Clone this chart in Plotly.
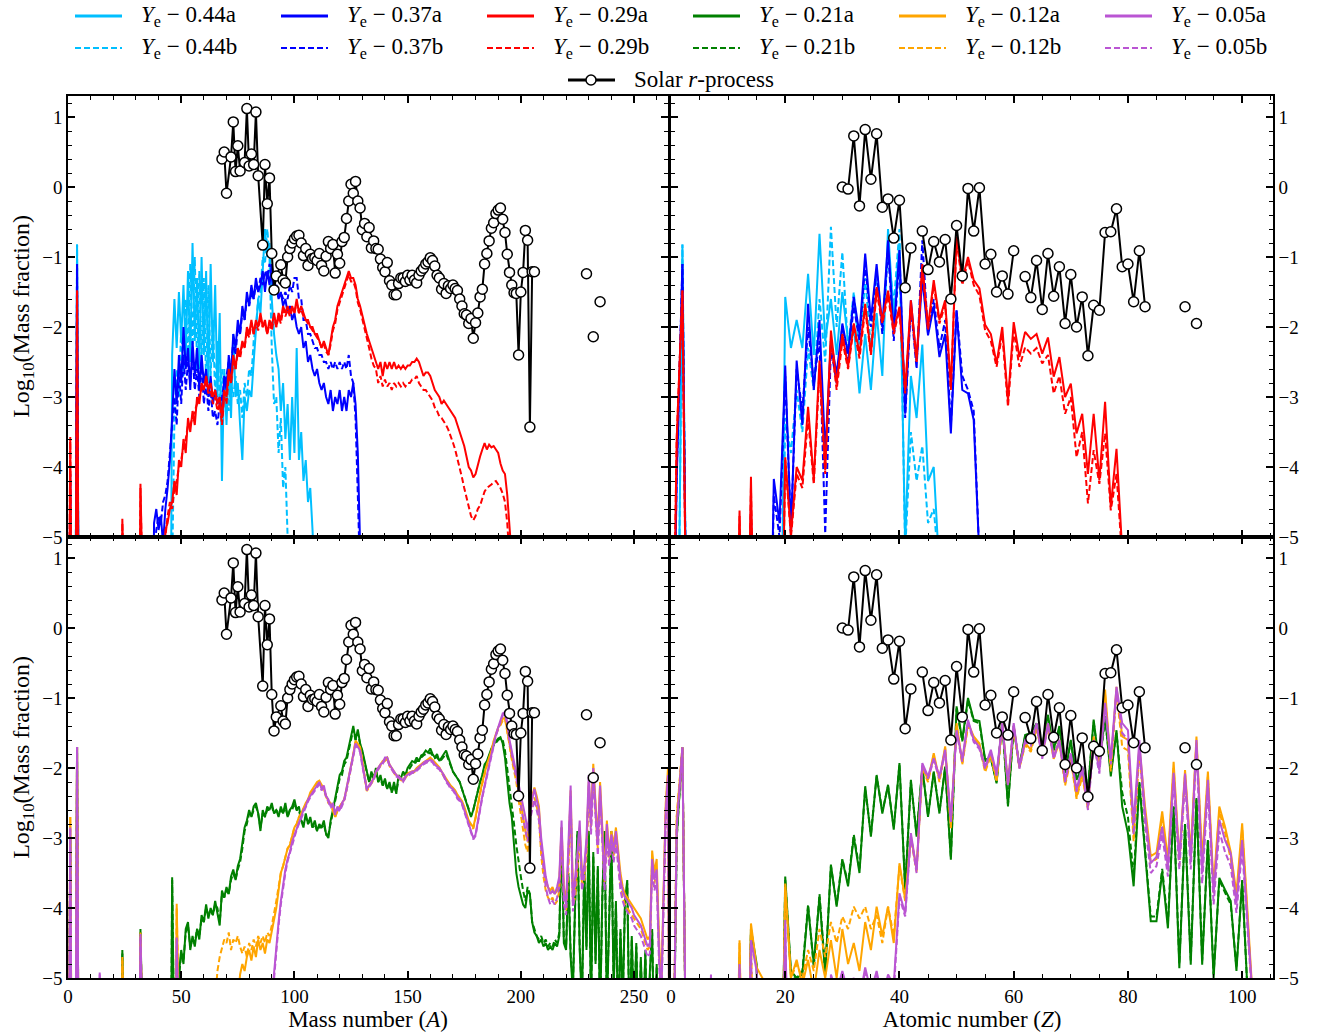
import plotly.graph_objects as go

FLOOR = -9.0   # abundances below the plotted window are drawn off the bottom
N_A = 266      # highest mass number stored
N_Z = 104      # highest atomic number stored

# ---------------- mass fractions vs mass number A (log10) ----------------
# each series: sparse light-element values, first A of the dense run, dense values
A_044A_LIGHT = {4: -0.82}
A_044A_FROM = 46
A_044A = [-2.4, -1.6, -2.3, -1.5, -2.2, -1.4, -2.4, -1.2, -2.5, -0.8,
          -2.2, -1.3, -2.6, -1.0, -2.4, -1.2, -2.8, -1.1, -2.5, -1.4,
          -3.0, -1.8, -4.2, -2.6, -3.4, -2.5, -3.3, -2.1, -3.0, -2.8,
          -3.4, -3.9, -3.0, -3.2, -2.9, -3.0, -2.5, -2.1, -1.6, -1.8,
          -1.2, -0.6, -1.0, -0.8, -1.6, -2.1, -2.4, -2.6, -3.2, -2.8,
          -3.6, -3.1, -3.9, -3.0, -3.8, -2.3, -3.9, -3.5, -4.2, -3.9,
          -4.5, -4.3, -4.9, -5.6]

A_044B_LIGHT = {4: -0.82}
A_044B_FROM = 46
A_044B = [-5.5, -3.3, -2.6, -3.0, -2.0, -2.7, -1.6, -2.5, -1.1, -2.4,
          -1.0, -2.6, -1.2, -2.5, -1.3, -2.8, -1.4, -2.7, -1.9, -3.0,
          -2.2, -3.1, -2.6, -3.0, -2.7, -3.2, -2.8, -3.0, -2.7, -3.1,
          -2.9, -3.3, -2.8, -3.0, -2.6, -2.7, -2.2, -2.0, -1.6, -1.5,
          -1.0, -1.1, -0.6, -1.0, -2.3, -3.1, -3.0, -3.8, -3.3, -4.3,
          -4.0, -4.9, -6.0]

A_037A_LIGHT = {1: -4.2, 4: -1.1}
A_037A_FROM = 38
A_037A = [-4.8, -4.6, -4.9, -4.7, -5.1, -4.6, -4.3, -3.9, -3.3, -2.6,
          -3.1, -2.4, -2.8, -2.0, -2.6, -2.3, -2.9, -2.2, -2.7, -2.3,
          -2.9, -2.4, -2.8, -2.6, -3.0, -2.7, -3.1, -2.9, -3.1, -3.0,
          -3.3, -2.7, -2.9, -2.4, -2.7, -2.1, -2.3, -1.9, -2.1, -1.7,
          -1.9, -1.5, -1.7, -1.4, -1.6, -1.3, -1.5, -1.4, -1.2, -1.5,
          -1.2, -1.4, -1.1, -1.5, -1.4, -1.6, -1.5, -1.7, -1.6, -1.8,
          -1.7, -1.9, -1.8, -2.0, -2.1, -2.0, -2.3, -2.2, -2.5, -2.4,
          -2.6, -2.7, -2.6, -2.8, -2.9, -2.8, -3.0, -3.1, -2.9, -3.2,
          -3.0, -3.1, -2.9, -3.2, -3.0, -3.2, -2.9, -3.0, -2.8, -3.1,
          -3.8, -5.0]

A_037B_LIGHT = {1: -4.1, 4: -1.1}
A_037B_FROM = 38
A_037B = [-5.2, -4.9, -4.7, -4.8, -4.5, -4.4, -4.2, -3.8, -3.5, -3.0,
          -3.4, -2.6, -3.1, -2.4, -2.9, -2.5, -2.8, -2.4, -2.9, -2.6,
          -3.0, -2.5, -3.1, -2.8, -3.2, -2.9, -3.3, -3.2, -3.4, -3.1,
          -3.0, -2.8, -2.7, -2.5, -2.6, -2.2, -2.4, -2.0, -2.1, -1.8,
          -1.9, -1.6, -1.7, -1.5, -1.6, -1.4, -1.5, -1.3, -1.4, -1.2,
          -1.3, -1.1, -1.3, -1.5, -1.4, -1.6, -1.5, -1.6, -1.5, -1.6,
          -1.4, -1.5, -1.3, -1.3, -1.6, -1.6, -1.9, -1.9, -2.1, -2.1,
          -2.2, -2.3, -2.3, -2.4, -2.4, -2.5, -2.5, -2.6, -2.5, -2.6,
          -2.5, -2.6, -2.5, -2.6, -2.5, -2.6, -2.4, -2.7, -2.8, -3.3,
          -4.4, -6.0]

A_029A_LIGHT = {1: -3.6, 4: -1.48, 24: -4.74, 32: -4.24}
A_029A_FROM = 43
A_029A = [-4.9, -4.8, -4.6, -4.5, -4.2, -4.4, -3.9, -4.0, -3.6, -3.8,
          -3.3, -3.5, -3.2, -3.4, -3.0, -3.1, -2.8, -2.9, -2.7, -2.9,
          -2.8, -3.0, -2.9, -3.1, -3.0, -3.3, -2.9, -3.0, -2.6, -2.8,
          -2.4, -2.6, -2.3, -2.4, -2.2, -2.3, -2.0, -2.1, -1.9, -2.1,
          -1.9, -2.0, -1.8, -2.0, -1.9, -2.1, -1.9, -2.0, -1.8, -2.0,
          -1.8, -1.9, -1.7, -1.8, -1.7, -1.8, -1.7, -1.8, -1.6, -1.8,
          -1.7, -1.8, -1.9, -1.9, -2.0, -2.0, -2.1, -2.1, -2.2, -2.3,
          -2.2, -2.3, -2.4, -2.2, -2.0, -1.9, -1.7, -1.6, -1.5, -1.4,
          -1.3, -1.2, -1.3, -1.3, -1.4, -1.6, -1.7, -1.85, -2.0, -2.1,
          -2.2, -2.3, -2.4, -2.5, -2.6, -2.5, -2.7, -2.5, -2.6, -2.5,
          -2.6, -2.5, -2.6, -2.55, -2.6, -2.55, -2.6, -2.55, -2.55, -2.5,
          -2.5, -2.45, -2.5, -2.6, -2.7, -2.65, -2.65, -2.7, -2.8, -2.9,
          -2.95, -3.0, -3.1, -3.05, -3.1, -3.15, -3.2, -3.25, -3.3, -3.4,
          -3.5, -3.6, -3.7, -3.85, -4.0, -4.05, -4.15, -4.1, -3.95, -3.85,
          -3.75, -3.66, -3.75, -3.68, -3.72, -3.7, -3.75, -3.8, -3.95, -4.05,
          -4.1, -4.4, -4.85, -5.3]

A_029B_LIGHT = {1: -3.57, 4: -1.48, 24: -4.8, 32: -4.3}
A_029B_FROM = 43
A_029B = [-5.0, -4.7, -4.5, -4.6, -4.3, -4.2, -4.0, -3.9, -3.7, -3.6,
          -3.4, -3.4, -3.3, -3.2, -3.1, -3.0, -2.9, -2.8, -2.8, -2.95,
          -2.9, -3.1, -3.0, -3.2, -3.1, -3.4, -3.0, -3.1, -2.7, -2.8,
          -2.5, -2.6, -2.35, -2.45, -2.25, -2.3, -2.05, -2.15, -1.95, -2.1,
          -1.95, -2.05, -1.85, -2.0, -1.95, -2.1, -1.95, -2.05, -1.85, -2.0,
          -1.85, -1.95, -1.75, -1.85, -1.75, -1.85, -1.75, -1.8, -1.65, -1.8,
          -1.75, -1.85, -1.9, -1.95, -2.0, -2.05, -2.1, -2.15, -2.2, -2.3,
          -2.25, -2.35, -2.4, -2.25, -2.05, -1.95, -1.75, -1.65, -1.55, -1.45,
          -1.35, -1.25, -1.35, -1.35, -1.45, -1.65, -1.75, -1.9, -2.05, -2.15,
          -2.3, -2.45, -2.55, -2.6, -2.8, -2.7, -2.85, -2.75, -2.85, -2.8,
          -2.9, -2.8, -2.85, -2.8, -2.85, -2.8, -2.85, -2.8, -2.8, -2.75,
          -2.75, -2.7, -2.8, -2.85, -2.9, -2.9, -2.95, -3.0, -3.05, -3.15,
          -3.2, -3.28, -3.3, -3.35, -3.4, -3.47, -3.55, -3.65, -3.75, -3.9,
          -4.0, -4.15, -4.3, -4.45, -4.6, -4.7, -4.76, -4.7, -4.6, -4.55,
          -4.45, -4.35, -4.3, -4.28, -4.25, -4.22, -4.2, -4.25, -4.3, -4.38,
          -4.5, -4.8, -5.3]

A_021A_LIGHT = {1: -3.0, 4: -1.7, 24: -4.6, 32: -4.3, 46: -3.56}
A_021A_FROM = 49
A_021A = [-4.95, -4.6, -4.8, -4.3, -4.2, -4.6, -4.4, -4.55, -4.3, -4.45,
          -4.1, -4.2, -3.95, -4.15, -4.0, -4.1, -3.9, -4.05, -4.25, -3.75,
          -3.85, -3.7, -3.8, -3.55, -3.45, -3.6, -3.4, -3.3, -3.1, -2.85,
          -2.75, -2.6, -2.7, -2.55, -2.5, -2.65, -2.9, -2.6, -2.7, -2.55,
          -2.6, -2.5, -2.65, -2.6, -2.7, -2.55, -2.65, -2.5, -2.7, -2.6,
          -2.55, -2.45, -2.6, -2.55, -2.75, -2.85, -2.65, -2.8, -2.7, -2.85,
          -2.75, -2.9, -2.8, -2.85, -2.75, -2.95, -3.0, -2.75, -2.6, -2.45,
          -2.3, -2.1, -2.05, -1.9, -1.85, -1.7, -1.55, -1.4, -1.6, -1.45,
          -1.65, -1.75, -1.9, -2.05, -2.2, -2.05, -2.15, -2.0, -2.2, -2.1,
          -2.25, -2.15, -2.3, -2.2, -2.35, -2.2, -2.37, -2.1, -2.15, -2.05,
          -2.1, -2.0, -1.95, -1.9, -1.92, -1.85, -1.9, -1.82, -1.8, -1.75,
          -1.78, -1.72, -1.8, -1.85, -1.8, -1.9, -1.85, -1.8, -1.75, -1.85,
          -1.95, -2.05, -2.1, -2.15, -2.2, -2.3, -2.4, -2.5, -2.6, -2.7,
          -2.6, -2.45, -2.3, -2.2, -2.1, -1.95, -1.9, -1.8, -1.72, -1.66,
          -1.62, -1.58, -1.56, -1.65, -1.85, -2.2, -2.5, -2.7, -3.1, -3.5,
          -3.7, -3.85, -3.95, -4.0, -3.75, -3.8, -4.2, -4.35, -4.4, -4.5,
          -4.45, -4.55, -4.5, -4.6, -4.55, -4.6, -4.5, -4.55, -4.4, -2.85,
          -4.5, -4.6, -3.5, -4.7, -5.2, -3.9, -2.9, -4.6, -5.4, -3.4,
          -4.6, -2.9, -5.5, -3.2, -4.8, -3.4, -5.6, -3.8, -2.9, -5.5,
          -4.1, -2.9, -5.2, -3.9, -5.8, -4.3, -5.4, -3.9, -3.6, -5.9,
          -4.4, -5.6, -4.5, -6.0, -4.7, -5.8, -4.6, -6.2, -4.9, -4.3,
          -6.2, -4.8, -6.5, -4.9, -7.0, -7.0, -7.0]

A_021B_LIGHT = {1: -3.0, 4: -1.7, 24: -4.65, 32: -4.35, 46: -3.6}
A_021B_FROM = 49
A_021B = [-5.0, -4.65, -4.75, -4.35, -4.25, -4.55, -4.45, -4.5, -4.3, -4.4,
          -4.15, -4.2, -4.0, -4.1, -4.05, -4.1, -3.95, -4.0, -4.2, -3.8,
          -3.85, -3.75, -3.8, -3.6, -3.5, -3.6, -3.45, -3.35, -3.15, -2.9,
          -2.8, -2.65, -2.7, -2.6, -2.55, -2.65, -2.85, -2.65, -2.7, -2.6,
          -2.6, -2.55, -2.65, -2.6, -2.65, -2.6, -2.65, -2.55, -2.7, -2.6,
          -2.6, -2.5, -2.6, -2.6, -2.75, -2.8, -2.7, -2.8, -2.75, -2.85,
          -2.8, -2.9, -2.85, -2.85, -2.8, -2.95, -2.95, -2.8, -2.65, -2.5,
          -2.35, -2.15, -2.1, -1.95, -1.9, -1.75, -1.6, -1.45, -1.6, -1.5,
          -1.65, -1.8, -1.95, -2.05, -2.2, -2.1, -2.15, -2.05, -2.2, -2.15,
          -2.25, -2.2, -2.3, -2.25, -2.35, -2.25, -2.35, -2.15, -2.15, -2.1,
          -2.1, -2.05, -2.0, -1.95, -1.95, -1.9, -1.9, -1.85, -1.82, -1.8,
          -1.8, -1.78, -1.82, -1.86, -1.84, -1.9, -1.88, -1.84, -1.8, -1.88,
          -1.97, -2.05, -2.1, -2.15, -2.2, -2.3, -2.4, -2.5, -2.6, -2.68,
          -2.6, -2.45, -2.3, -2.2, -2.1, -1.98, -1.92, -1.82, -1.74, -1.68,
          -1.64, -1.6, -1.58, -1.6, -1.75, -2.0, -2.3, -2.5, -2.8, -3.1,
          -3.35, -3.55, -3.75, -3.9, -3.7, -3.8, -4.2, -4.3, -4.4, -4.45,
          -4.4, -4.5, -4.45, -4.55, -4.5, -4.55, -4.45, -4.5, -4.35, -2.9,
          -4.45, -4.55, -3.55, -4.65, -5.1, -3.95, -2.95, -4.55, -5.3, -3.45,
          -4.55, -2.95, -5.4, -3.25, -4.75, -3.45, -5.5, -3.85, -2.95, -5.4,
          -4.15, -2.95, -5.1, -3.95, -5.7, -4.35, -5.3, -3.95, -3.65, -5.8,
          -4.45, -5.5, -4.55, -5.9, -4.75, -5.7, -4.65, -6.1, -4.95, -4.35,
          -6.1, -4.85, -6.4, -4.95, -7.0, -7.0, -7.0]

A_012A_LIGHT = {1: -2.7, 4: -1.7, 24: -4.7, 32: -4.35, 48: -3.94}
A_012A_FROM = 75
A_012A = [-5.3, -4.95, -4.8, -4.9, -4.7, -4.6, -4.75, -4.55, -4.7, -4.45,
          -4.6, -4.5, -4.65, -4.45, -4.5, -4.35, -4.2, -4.0, -3.75, -3.5,
          -3.4, -3.25, -3.15, -3.1, -2.95, -2.85, -2.8, -2.7, -2.65, -2.56,
          -2.5, -2.45, -2.35, -2.3, -2.25, -2.2, -2.18, -2.25, -2.3, -2.4,
          -2.47, -2.5, -2.6, -2.7, -2.6, -2.55, -2.5, -2.45, -2.3, -2.15,
          -2.0, -1.8, -1.61, -1.65, -1.7, -1.9, -2.09, -2.32, -2.25, -2.2,
          -2.15, -2.05, -2.0, -1.95, -1.9, -1.88, -1.85, -1.95, -2.0, -2.05,
          -2.1, -2.12, -2.15, -2.18, -2.12, -2.08, -2.06, -2.05, -2.04, -2.0,
          -1.97, -1.95, -1.92, -1.9, -1.88, -1.85, -1.88, -1.92, -1.96, -1.99,
          -2.05, -2.1, -2.15, -2.2, -2.25, -2.28, -2.32, -2.38, -2.42, -2.47,
          -2.55, -2.65, -2.75, -2.8, -2.85, -2.7, -2.5, -2.35, -2.2, -2.05,
          -1.95, -1.85, -1.75, -1.61, -1.5, -1.42, -1.37, -1.3, -1.28, -1.45,
          -1.65, -1.85, -2.0, -2.09, -2.3, -2.45, -2.7, -2.9, -3.04, -2.56,
          -2.4, -2.28, -2.4, -2.55, -3.1, -3.4, -3.6, -3.7, -3.75, -3.7,
          -3.8, -3.75, -3.6, -2.85, -3.7, -3.9, -3.3, -2.32, -3.8, -3.7,
          -3.3, -2.85, -3.5, -3.5, -3.1, -2.2, -2.7, -1.94, -2.5, -3.0,
          -2.2, -2.9, -3.5, -2.75, -3.2, -2.9, -3.1, -2.85, -3.2, -3.5,
          -3.7, -3.8, -3.85, -3.9, -3.95, -4.0, -4.05, -4.1, -4.15, -4.25,
          -4.35, -4.45, -4.4, -3.18, -3.5, -3.3, -4.4, -5.2, -3.8, -2.5, -2.0]

A_012B_LIGHT = {1: -2.7, 4: -1.7, 24: -4.75, 32: -4.4, 48: -4.0}
A_012B_FROM = 65
A_012B = [-5.3, -4.9, -4.7, -4.56, -4.45, -4.5, -4.35, -4.6, -4.45, -4.5,
          -4.4, -4.55, -4.65, -4.55, -4.7, -4.5, -4.6, -4.45, -4.55, -4.4,
          -4.5, -4.4, -4.5, -4.35, -4.4, -4.25, -4.1, -3.9, -3.7, -3.5,
          -3.4, -3.25, -3.15, -3.1, -2.95, -2.85, -2.8, -2.7, -2.65, -2.58,
          -2.52, -2.45, -2.38, -2.32, -2.27, -2.22, -2.2, -2.25, -2.32, -2.4,
          -2.5, -2.52, -2.62, -2.7, -2.62, -2.57, -2.5, -2.45, -2.32, -2.17,
          -2.02, -1.82, -1.63, -1.67, -1.72, -1.92, -2.1, -2.33, -2.27, -2.22,
          -2.17, -2.07, -2.02, -1.97, -1.92, -1.9, -1.87, -1.97, -2.02, -2.07,
          -2.12, -2.14, -2.17, -2.2, -2.14, -2.1, -2.08, -2.07, -2.06, -2.02,
          -1.99, -1.97, -1.94, -1.92, -1.9, -1.87, -1.9, -1.94, -1.98, -2.01,
          -2.07, -2.12, -2.17, -2.22, -2.27, -2.3, -2.34, -2.4, -2.44, -2.5,
          -2.58, -2.68, -2.78, -2.83, -2.87, -2.72, -2.52, -2.37, -2.22, -2.07,
          -1.97, -1.87, -1.77, -1.63, -1.52, -1.44, -1.39, -1.32, -1.3, -1.47,
          -1.67, -1.88, -2.05, -2.2, -2.45, -2.65, -2.9, -3.1, -3.2, -2.7,
          -2.55, -2.42, -2.55, -2.7, -3.25, -3.55, -3.75, -3.85, -3.9, -3.85,
          -3.95, -3.9, -3.75, -3.0, -3.85, -4.05, -3.45, -2.45, -3.95, -3.85,
          -3.45, -3.0, -3.65, -3.65, -3.25, -2.35, -2.85, -2.05, -2.65, -3.15,
          -2.35, -3.05, -3.65, -2.9, -3.35, -3.05, -3.25, -3.0, -3.35, -3.65,
          -3.85, -3.95, -4.0, -4.05, -4.1, -4.15, -4.2, -4.25, -4.3, -4.4,
          -4.5, -4.6, -4.55, -3.3, -3.65, -3.45, -4.55, -5.3, -3.95, -2.6, -2.1]

A_005A_LIGHT = {1: -2.85, 4: -1.7, 14: -4.92, 32: -4.37, 48: -4.42}
A_005A_FROM = 90
A_005A = [-5.3, -4.9, -4.5, -4.2, -3.9, -3.65, -3.45, -3.3, -3.2, -3.05,
          -2.95, -2.85, -2.78, -2.7, -2.6, -2.55, -2.45, -2.4, -2.35, -2.3,
          -2.25, -2.2, -2.3, -2.25, -2.4, -2.45, -2.55, -2.5, -2.65, -2.55,
          -2.6, -2.5, -2.45, -2.3, -2.15, -2.0, -1.8, -1.65, -1.7, -1.75,
          -1.95, -2.1, -2.3, -2.25, -2.2, -2.15, -2.05, -2.0, -1.95, -1.92,
          -1.85, -1.85, -1.95, -2.0, -2.05, -2.1, -2.12, -2.15, -2.18, -2.12,
          -2.1, -2.08, -2.05, -2.05, -2.02, -1.98, -1.95, -1.93, -1.9, -1.9,
          -1.88, -1.9, -1.95, -1.98, -2.0, -2.05, -2.1, -2.18, -2.22, -2.28,
          -2.3, -2.35, -2.42, -2.45, -2.5, -2.6, -2.7, -2.8, -2.9, -3.0,
          -2.95, -2.75, -2.6, -2.4, -2.25, -2.1, -1.95, -1.8, -1.65, -1.52,
          -1.42, -1.32, -1.22, -1.2, -1.35, -1.6, -1.75, -1.9, -2.05, -2.2,
          -2.4, -2.55, -2.7, -2.9, -2.6, -2.45, -2.3, -2.45, -2.6, -3.0,
          -3.3, -3.55, -3.7, -3.8, -3.75, -3.8, -3.7, -3.55, -2.75, -3.8,
          -3.95, -3.2, -2.25, -3.9, -3.6, -3.2, -2.75, -3.6, -3.4, -3.0,
          -2.1, -2.8, -2.0, -2.6, -3.1, -2.25, -3.0, -3.6, -2.8, -3.25,
          -2.95, -3.2, -2.9, -3.3, -3.6, -3.75, -3.85, -3.9, -3.95, -4.0,
          -4.1, -4.15, -4.2, -4.25, -4.35, -4.45, -4.55, -4.5, -3.3, -3.6,
          -3.45, -4.6, -5.3, -3.9, -2.6, -2.1]

A_005B_LIGHT = {1: -2.85, 4: -1.7, 14: -4.95, 32: -4.4, 48: -4.45}
A_005B_FROM = 90
A_005B = [-5.4, -5.0, -4.6, -4.25, -3.95, -3.7, -3.5, -3.33, -3.22, -3.08,
          -2.97, -2.88, -2.8, -2.72, -2.63, -2.57, -2.48, -2.42, -2.37, -2.32,
          -2.27, -2.23, -2.32, -2.28, -2.42, -2.48, -2.57, -2.53, -2.67, -2.58,
          -2.62, -2.53, -2.47, -2.33, -2.17, -2.02, -1.83, -1.67, -1.72, -1.77,
          -1.97, -2.12, -2.32, -2.27, -2.22, -2.17, -2.07, -2.02, -1.97, -1.94,
          -1.88, -1.87, -1.97, -2.02, -2.07, -2.12, -2.14, -2.17, -2.2, -2.14,
          -2.12, -2.1, -2.07, -2.07, -2.04, -2.0, -1.97, -1.95, -1.93, -1.92,
          -1.9, -1.92, -1.97, -2.0, -2.02, -2.07, -2.12, -2.2, -2.24, -2.3,
          -2.32, -2.37, -2.44, -2.47, -2.52, -2.62, -2.72, -2.82, -2.92, -3.02,
          -2.97, -2.77, -2.62, -2.42, -2.27, -2.12, -1.97, -1.82, -1.67, -1.54,
          -1.44, -1.34, -1.25, -1.22, -1.38, -1.63, -1.8, -1.97, -2.15, -2.32,
          -2.55, -2.7, -2.85, -3.05, -2.75, -2.6, -2.45, -2.6, -2.75, -3.15,
          -3.45, -3.7, -3.85, -3.95, -3.9, -3.95, -3.85, -3.7, -2.9, -3.95,
          -4.1, -3.35, -2.4, -4.05, -3.75, -3.35, -2.9, -3.75, -3.55, -3.15,
          -2.25, -2.95, -2.15, -2.75, -3.25, -2.4, -3.15, -3.75, -2.95, -3.4,
          -3.1, -3.35, -3.05, -3.45, -3.75, -3.9, -4.0, -4.05, -4.1, -4.15,
          -4.25, -4.3, -4.35, -4.4, -4.5, -4.6, -4.7, -4.65, -3.45, -3.75,
          -3.6, -4.75, -5.4, -4.05, -2.75, -2.2]

# ---------------- mass fractions vs atomic number Z (log10) ----------------
Z_044A_LIGHT = {2: -0.82}
Z_044A_FROM = 20
Z_044A = [-1.57, -2.3, -1.9, -2.3, -1.24, -2.4, -0.67, -2.2, -1.6, -2.4,
          -1.5, -2.2, -2.0, -2.95, -2.1, -2.9, -1.8, -2.7, -0.6, -1.9,
          -0.8, -5.1, -2.7, -3.3, -2.25, -4.2, -4.0, -5.5]

Z_044B_LIGHT = {2: -0.82}
Z_044B_FROM = 20
Z_044B = [-3.3, -3.8, -2.9, -3.5, -2.3, -2.9, -1.6, -2.5, -0.57, -2.0,
          -0.93, -2.3, -1.5, -2.4, -1.3, -2.3, -1.2, -2.0, -0.9, -1.7,
          -0.6, -5.2, -3.5, -4.2, -3.7, -4.8, -4.6, -5.5]

Z_037A_LIGHT = {1: -4.2, 2: -1.1, 14: -5.2}
Z_037A_FROM = 18
Z_037A = [-4.17, -4.8, -2.55, -4.95, -2.48, -3.4, -1.67, -2.9, -1.9, -3.8,
          -2.2, -2.67, -1.95, -2.38, -1.57, -2.1, -0.95, -1.9, -1.1, -2.0,
          -0.76, -2.1, -0.9, -3.24, -1.62, -2.5, -1.3, -2.12, -1.7, -2.43,
          -2.1, -3.52, -1.76, -2.9, -2.95, -3.33, -5.3]

Z_037B_LIGHT = {1: -4.1, 2: -1.1, 14: -4.6}
Z_037B_FROM = 18
Z_037B = [-4.4, -5.0, -2.7, -4.9, -2.6, -3.2, -2.0, -2.8, -2.2, -4.95,
          -2.3, -2.8, -2.0, -2.5, -1.7, -2.2, -1.1, -2.0, -1.2, -2.1,
          -0.9, -2.2, -1.0, -3.3, -1.7, -2.6, -0.76, -2.1, -1.6, -2.3,
          -1.9, -3.4, -1.76, -2.7, -2.9, -3.2, -5.3]

Z_029A_LIGHT = {1: -3.6, 2: -1.48, 12: -4.62, 14: -4.14}
Z_029A_FROM = 20
Z_029A = [-3.86, -4.95, -4.0, -4.19, -3.14, -4.19, -2.48, -4.05, -2.05, -2.81,
          -2.1, -2.57, -1.95, -2.38, -1.67, -2.38, -1.43, -1.9, -1.48, -2.05,
          -1.71, -2.9, -1.62, -2.48, -1.1, -2.0, -1.33, -1.9, -1.62, -2.86,
          -0.71, -1.33, -1.0, -1.33, -1.45, -1.97, -2.1, -2.52, -2.0, -3.05,
          -1.93, -2.43, -2.07, -2.17, -2.1, -2.38, -2.15, -2.71, -2.43, -3.0,
          -2.81, -3.52, -3.24, -4.1, -3.24, -4.19, -3.07, -4.57, -3.74, -5.2]

Z_029B_LIGHT = {1: -3.6, 2: -1.48, 12: -4.7, 14: -4.3}
Z_029B_FROM = 20
Z_029B = [-3.9, -5.0, -4.1, -4.3, -3.3, -4.25, -2.6, -4.1, -2.2, -2.9,
          -2.2, -2.6, -2.0, -2.45, -1.75, -2.4, -1.5, -1.95, -1.55, -2.1,
          -1.75, -2.95, -1.7, -2.5, -1.15, -2.05, -1.4, -1.95, -1.68, -2.9,
          -0.75, -1.4, -1.05, -1.4, -1.55, -2.05, -2.2, -2.57, -2.1, -3.14,
          -2.05, -2.57, -2.29, -2.38, -2.3, -2.52, -2.4, -2.95, -2.7, -3.24,
          -3.0, -3.86, -3.5, -4.52, -3.76, -4.24, -3.52, -4.62, -4.1, -5.3]

Z_021A_LIGHT = {1: -3.0, 2: -1.7, 12: -4.7, 14: -4.3, 15: -4.8}
Z_021A_FROM = 20
Z_021A = [-3.55, -4.9, -5.0, -4.95, -3.98, -4.8, -3.84, -4.95, -3.38, -3.98,
          -3.31, -3.69, -2.98, -3.5, -2.26, -2.98, -2.1, -2.65, -2.24, -2.88,
          -1.93, -3.74, -2.17, -2.98, -1.98, -2.7, -2.05, -2.65, -1.98, -3.31,
          -1.12, -1.6, -1.0, -1.31, -1.33, -1.88, -1.85, -2.22, -1.31, -2.55,
          -1.4, -1.98, -1.53, -1.5, -1.36, -1.69, -1.24, -1.74, -1.4, -2.07,
          -1.6, -2.17, -1.98, -2.31, -1.31, -1.98, -1.26, -2.12, -1.46, -2.55,
          -2.93, -3.69, -2.22, -3.26, -4.19, -4.19, -3.48, -4.29, -2.55, -4.86,
          -2.81, -4.81, -2.43, -4.81, -3.03, -5.0, -3.57, -3.74, -3.9, -4.9,
          -3.6, -5.3]

Z_021B_LIGHT = {1: -3.0, 2: -1.7, 12: -4.75, 14: -4.35, 15: -4.85}
Z_021B_FROM = 20
Z_021B = [-3.6, -4.95, -5.0, -4.9, -3.95, -4.85, -3.8, -4.9, -3.4, -3.95,
          -3.3, -3.65, -2.95, -3.45, -2.3, -2.95, -2.12, -2.62, -2.26, -2.85,
          -1.95, -3.7, -2.2, -2.95, -2.0, -2.68, -2.07, -2.62, -2.0, -3.28,
          -1.15, -1.62, -1.03, -1.33, -1.36, -1.9, -1.87, -2.2, -1.34, -2.52,
          -1.43, -1.98, -1.55, -1.52, -1.38, -1.7, -1.27, -1.75, -1.43, -2.07,
          -1.62, -2.17, -2.0, -2.3, -1.34, -1.98, -1.3, -2.05, -1.5, -2.35,
          -2.7, -3.55, -2.2, -3.22, -4.12, -4.12, -3.44, -4.22, -2.55, -4.8,
          -2.8, -4.75, -2.45, -4.75, -3.05, -4.95, -3.6, -3.78, -3.95, -4.85,
          -3.62, -5.3]

Z_012A_LIGHT = {1: -2.7, 2: -1.7, 12: -4.46, 14: -4.22, 15: -4.85, 16: -5.0}
Z_012A_FROM = 20
Z_012A = [-3.65, -5.0, -4.74, -5.1, -4.74, -5.2, -4.6, -5.0, -4.46, -5.0,
          -4.3, -4.8, -4.5, -4.9, -4.2, -4.6, -3.98, -4.4, -3.98, -4.5,
          -3.36, -3.88, -2.98, -3.45, -1.98, -2.17, -1.79, -2.17, -1.69, -2.84,
          -1.36, -1.93, -1.36, -1.55, -1.65, -2.03, -1.79, -2.17, -1.36, -2.22,
          -1.4, -1.98, -1.64, -1.74, -1.4, -1.79, -1.36, -1.84, -1.6, -2.22,
          -1.84, -2.41, -2.08, -2.55, -1.55, -1.98, -0.88, -1.98, -0.84, -1.55,
          -1.6, -2.93, -1.69, -2.55, -3.26, -3.21, -2.62, -3.31, -1.91, -3.31,
          -2.03, -3.22, -1.55, -3.31, -2.05, -3.69, -2.55, -2.84, -3.2, -3.79,
          -2.79, -4.1, -5.5]

Z_012B_LIGHT = {1: -2.7, 2: -1.7, 12: -4.5, 14: -4.3}
Z_012B_FROM = 20
Z_012B = [-3.7, -5.0, -4.8, -5.0, -4.6, -4.9, -4.3, -4.7, -4.2, -4.5,
          -4.12, -4.3, -3.98, -4.15, -3.98, -4.3, -4.1, -4.5, -3.98, -4.4,
          -3.4, -3.9, -3.0, -3.48, -2.0, -2.2, -1.82, -2.2, -1.72, -2.86,
          -1.4, -1.95, -1.4, -1.58, -1.68, -2.06, -1.82, -2.2, -1.4, -2.25,
          -1.43, -2.0, -1.67, -1.77, -1.43, -1.82, -1.4, -1.87, -1.63, -2.25,
          -1.87, -2.44, -2.12, -2.58, -1.6, -2.02, -0.95, -2.05, -0.9, -1.7,
          -1.75, -3.05, -1.8, -2.65, -3.35, -3.3, -2.7, -3.4, -2.0, -3.4,
          -2.1, -3.3, -1.62, -3.4, -2.12, -3.78, -2.62, -2.92, -3.3, -3.9,
          -2.87, -4.2, -5.6]

Z_005A_LIGHT = {1: -2.85, 2: -1.7, 7: -4.95, 12: -4.8, 14: -4.46, 15: -4.9, 20: -4.17}
Z_005A_FROM = 28
Z_005A = [-4.95, -5.2, -4.9, -5.2, -5.0, -5.3, -4.85, -5.2, -4.9, -5.3,
          -4.95, -5.1, -3.79, -4.08, -2.93, -3.46, -1.93, -2.12, -1.86, -2.12,
          -1.74, -2.74, -1.46, -1.88, -1.31, -1.6, -1.7, -1.98, -1.74, -2.08,
          -1.36, -2.22, -1.36, -1.98, -1.6, -1.65, -1.36, -1.84, -1.36, -1.84,
          -1.6, -2.17, -1.79, -2.31, -1.98, -2.55, -1.6, -2.03, -1.07, -1.88,
          -0.84, -1.36, -1.46, -2.79, -1.6, -2.65, -3.36, -3.27, -2.84, -3.41,
          -2.07, -3.31, -2.08, -3.31, -1.6, -3.5, -2.17, -3.79, -2.74, -3.03,
          -3.22, -3.93, -3.03, -4.22, -5.5]

Z_005B_LIGHT = {1: -2.85, 2: -1.7, 7: -5.0, 12: -4.85, 14: -4.5, 20: -4.25}
Z_005B_FROM = 28
Z_005B = [-5.0, -5.3, -4.95, -5.25, -5.1, -5.35, -4.9, -5.3, -4.95, -5.35,
          -5.0, -5.2, -3.85, -4.12, -2.97, -3.5, -1.96, -2.15, -1.89, -2.15,
          -1.77, -2.77, -1.49, -1.91, -1.34, -1.63, -1.73, -2.01, -1.77, -2.11,
          -1.39, -2.25, -1.39, -2.01, -1.63, -1.68, -1.39, -1.87, -1.39, -1.87,
          -1.63, -2.2, -1.82, -2.34, -2.02, -2.6, -1.65, -2.08, -1.12, -1.95,
          -0.9, -1.5, -1.6, -2.95, -1.72, -2.8, -3.5, -3.4, -2.95, -3.55,
          -2.2, -3.45, -2.2, -3.45, -1.72, -3.65, -2.3, -3.95, -2.9, -3.2,
          -3.4, -4.07, -3.15, -4.35, -5.6]

# ---------------- solar r-process residuals ----------------
SOLAR_A = [68, 69, 70, 72, 73, 74, 75, 76, 78, 79, 80, 81, 82, 83, 84, 86, 87, 88, 89, 90,
           91, 92, 94, 95, 96, 97, 98, 99, 100, 101, 102, 103, 104, 105, 106, 107, 108, 109, 110, 111,
           112, 113, 114, 115, 116, 117, 118, 119, 120, 121, 122, 123, 124, 125, 126, 127, 128, 129, 130, 131,
           132, 133, 134, 135, 136, 137, 138, 139, 140, 141, 142, 143, 144, 145, 146, 147, 148, 149, 150, 151,
           152, 153, 154, 155, 156, 157, 158, 159, 160, 161, 162, 163, 164, 165, 166, 167, 168, 169, 170, 171,
           172, 173, 174, 175, 176, 177, 178, 179, 180, 181, 182, 183, 184, 185, 186, 187, 188, 189, 190, 191,
           192, 193, 194, 195, 196, 197, 198, 199, 200, 201, 202, 203, 204, 205, 206]
SOLAR_XA = [0.40, 0.50, -0.09, 0.43, 0.93, 0.22, 0.59, 0.23, 0.35, 1.12, 0.30, 0.47, 0.32, 1.07, 0.16, -0.83, 0.32, -0.24, 0.13, -0.95,
            -1.47, -1.27, -1.11, -1.33, -1.37, -1.00, -0.88, -0.80, -0.74, -0.70, -0.69, -0.80, -0.98, -0.88, -1.12, -0.96, -1.02, -1.01, -1.05, -0.95,
            -1.12, -1.20, -0.99, -0.78, -0.88, -0.82, -1.23, -0.96, -1.09, -0.78, -0.72, -0.45, -0.20, 0.04, -0.09, 0.08, -0.20, -0.30, -0.61, -0.52,
            -0.71, -0.58, -0.87, -0.77, -0.88, -0.89, -1.03, -1.15, -1.21, -1.08, -1.34, -1.40, -1.54, -1.54, -1.38, -1.30, -1.30, -1.35, -1.26, -1.33,
            -1.26, -1.33, -1.37, -1.26, -1.20, -1.16, -1.10, -1.07, -1.01, -1.05, -1.13, -1.26, -1.30, -1.46, -1.38, -1.52, -1.41, -1.45, -1.40, -1.45,
            -1.48, -1.60, -1.70, -1.81, -1.83, -1.95, -1.88, -2.16, -1.94, -1.80, -1.57, -1.46, -1.10, -0.95, -0.77, -0.59, -0.51, -0.38, -0.33, -0.30,
            -0.46, -0.65, -0.96, -1.22, -1.40, -1.51, -1.52, -2.40, -1.50, -1.22, -0.62, -0.76, -3.43, -1.21, -1.21]
SOLAR_A_ACT = [229, 232, 235]
SOLAR_XA_ACT = [-1.24, -2.14, -1.64]

SOLAR_Z = list(range(30, 84))
SOLAR_XZ = [0.00, -0.03, 0.73, -0.27, 0.82, 0.11, 0.76, -0.29, -0.17, -0.73,
            -0.19, -1.44, -0.87, None, -0.63, -1.18, -0.78, -1.07, -0.75, -1.60,
            -0.55, -1.27, -0.02, -0.63, -0.01, -1.10, -0.96, -1.50, -1.27, -1.53,
            -0.91, None, -1.28, -1.58, -1.05, -1.75, -0.95, -1.56, -1.14, -1.95,
            -1.25, -2.00, -1.57, -2.41, -1.69, -1.76, -0.65, -0.64, -0.31, -1.14,
            -1.10, -1.64, -0.91, -1.71]
SOLAR_Z_ACT = [90, 92]
SOLAR_XZ_ACT = [-1.71, -1.95]

Y_TICKS = [-5, -4, -3, -2, -1, 0, 1]
Y_TICK_TEXT = ["\u22125", "\u22124", "\u22123", "\u22122", "\u22121", "0", "1"]


def profile(n_max, light, start, values):
    """Full log mass-fraction profile on 0..n_max; unlisted entries sit below the window."""
    y = [FLOOR] * (n_max + 1)
    for k, v in light.items():
        y[k] = v
    for i, v in enumerate(values):
        if start + i <= n_max:
            y[start + i] = v
    return list(range(n_max + 1)), y


COLORS = {"0.44": "#00BFFF", "0.37": "#0000FF", "0.29": "#FF0000",
          "0.21": "#008000", "0.12": "#FFA500", "0.05": "#BA55D3"}
DASH = "6px,3px"

# (ye, variant, row, A-profile, Z-profile)
SERIES = [
    ("0.44", "a", 1, (A_044A_LIGHT, A_044A_FROM, A_044A), (Z_044A_LIGHT, Z_044A_FROM, Z_044A)),
    ("0.44", "b", 1, (A_044B_LIGHT, A_044B_FROM, A_044B), (Z_044B_LIGHT, Z_044B_FROM, Z_044B)),
    ("0.37", "a", 1, (A_037A_LIGHT, A_037A_FROM, A_037A), (Z_037A_LIGHT, Z_037A_FROM, Z_037A)),
    ("0.37", "b", 1, (A_037B_LIGHT, A_037B_FROM, A_037B), (Z_037B_LIGHT, Z_037B_FROM, Z_037B)),
    ("0.29", "a", 1, (A_029A_LIGHT, A_029A_FROM, A_029A), (Z_029A_LIGHT, Z_029A_FROM, Z_029A)),
    ("0.29", "b", 1, (A_029B_LIGHT, A_029B_FROM, A_029B), (Z_029B_LIGHT, Z_029B_FROM, Z_029B)),
    ("0.21", "a", 2, (A_021A_LIGHT, A_021A_FROM, A_021A), (Z_021A_LIGHT, Z_021A_FROM, Z_021A)),
    ("0.21", "b", 2, (A_021B_LIGHT, A_021B_FROM, A_021B), (Z_021B_LIGHT, Z_021B_FROM, Z_021B)),
    ("0.12", "a", 2, (A_012A_LIGHT, A_012A_FROM, A_012A), (Z_012A_LIGHT, Z_012A_FROM, Z_012A)),
    ("0.12", "b", 2, (A_012B_LIGHT, A_012B_FROM, A_012B), (Z_012B_LIGHT, Z_012B_FROM, Z_012B)),
    ("0.05", "a", 2, (A_005A_LIGHT, A_005A_FROM, A_005A), (Z_005A_LIGHT, Z_005A_FROM, Z_005A)),
    ("0.05", "b", 2, (A_005B_LIGHT, A_005B_FROM, A_005B), (Z_005B_LIGHT, Z_005B_FROM, Z_005B)),
]
YE_ORDER = ["0.44", "0.37", "0.29", "0.21", "0.12", "0.05"]

FONT = "Liberation Serif"
W, H = 1317, 1034
ML, MR, MT, MB = 68, 44, 96, 56
PW, PH = W - ML - MR, H - MT - MB


def px_x(px):
    return (px - ML) / PW


def px_y(py):
    return (H - MB - py) / PH


fig = go.Figure()

for ye, var, row, a_prof, z_prof in SERIES:
    name = f"<i>Y</i><sub>e</sub> \u2212 {ye}{var}"
    line = dict(color=COLORS[ye], width=2, dash="solid" if var == "a" else DASH)
    xa, ya = profile(N_A, *a_prof)
    xz, yz = profile(N_Z, *z_prof)
    ax_a, ay_a = ("x", "y") if row == 1 else ("x3", "y3")
    ax_z, ay_z = ("x2", "y2") if row == 1 else ("x4", "y4")
    fig.add_trace(go.Scatter(x=xa, y=ya, mode="lines", line=line, name=name,
                             legendgroup=name, showlegend=False, xaxis=ax_a, yaxis=ay_a))
    fig.add_trace(go.Scatter(x=xz, y=yz, mode="lines", line=line, name=name,
                             legendgroup=name, showlegend=False, xaxis=ax_z, yaxis=ay_z))

solar_marker = dict(symbol="circle", size=10, color="white", line=dict(color="black", width=1.5))
solar_line = dict(color="black", width=2)
for ax_a, ay_a, ax_z, ay_z in [("x", "y", "x2", "y2"), ("x3", "y3", "x4", "y4")]:
    fig.add_trace(go.Scatter(x=SOLAR_A, y=SOLAR_XA, mode="lines+markers", line=solar_line,
                             marker=solar_marker, name="Solar r-process", showlegend=False,
                             xaxis=ax_a, yaxis=ay_a))
    fig.add_trace(go.Scatter(x=SOLAR_A_ACT, y=SOLAR_XA_ACT, mode="markers", marker=solar_marker,
                             showlegend=False, xaxis=ax_a, yaxis=ay_a))
    fig.add_trace(go.Scatter(x=SOLAR_Z, y=SOLAR_XZ, mode="lines+markers", line=solar_line,
                             marker=solar_marker, connectgaps=False, showlegend=False,
                             xaxis=ax_z, yaxis=ay_z))
    fig.add_trace(go.Scatter(x=SOLAR_Z_ACT, y=SOLAR_XZ_ACT, mode="markers", marker=solar_marker,
                             showlegend=False, xaxis=ax_z, yaxis=ay_z))

# ---- key: six columns (a solid on the first row, b dashed on the second), solar centred below ----
shapes, notes = [], []
legend_font = dict(family=FONT, size=23, color="black")
for col, ye in enumerate(YE_ORDER):
    for r, var in enumerate(["a", "b"]):
        y_row = px_y(16 + 32 * r)
        x0 = 75 + 206 * col
        shapes.append(dict(type="line", xref="paper", yref="paper",
                           x0=px_x(x0), x1=px_x(x0 + 47), y0=y_row, y1=y_row,
                           line=dict(color=COLORS[ye], width=3 if var == "a" else 2,
                                     dash="solid" if var == "a" else DASH)))
        notes.append(dict(xref="paper", yref="paper", x=px_x(x0 + 64), y=y_row,
                          xanchor="left", yanchor="middle", showarrow=False,
                          text=f"<i>Y</i><sub>e</sub> \u2212 {ye}{var}", font=legend_font))
y_sol = px_y(80)
shapes.append(dict(type="line", xref="paper", yref="paper", x0=px_x(568), x1=px_x(615),
                   y0=y_sol, y1=y_sol, line=dict(color="black", width=3)))
shapes.append(dict(type="circle", xref="paper", yref="paper",
                   x0=px_x(586), x1=px_x(596), y0=px_y(85), y1=px_y(75),
                   fillcolor="white", line=dict(color="black", width=1.5)))
notes.append(dict(xref="paper", yref="paper", x=px_x(632), y=y_sol, xanchor="left",
                  yanchor="middle", showarrow=False, text="Solar <i>r</i>-process", font=legend_font))

tickfont = dict(family=FONT, size=19, color="black")
titlefont = dict(family=FONT, size=23, color="black")
frame = dict(showline=True, linecolor="black", linewidth=1.5, mirror="allticks",
             ticks="inside", ticklen=7, tickwidth=1.5, tickcolor="black",
             showgrid=False, zeroline=False, tickfont=tickfont, automargin=False)
minor_a = dict(ticks="inside", ticklen=4, tickwidth=1, tickcolor="black", dtick=10)
minor_z = dict(ticks="inside", ticklen=4, tickwidth=1, tickcolor="black", dtick=5)
minor_y = dict(ticks="inside", ticklen=4, tickwidth=1, tickcolor="black", dtick=0.2)
yticks = dict(tickmode="array", tickvals=Y_TICKS, ticktext=Y_TICK_TEXT)

LEFT = [0, 600 / PW]
RIGHT = [603 / PW, 1]
TOP = [0.5, 1]
BOTTOM = [0, 0.5]
XA_RANGE = [0, 265]
XZ_RANGE = [0, 105.4]
Y_RANGE = [-5, 1.3]
ytitle = dict(text="Log<sub>10</sub>(Mass fraction)", font=dict(titlefont, size=24), standoff=6)

fig.update_layout(
    width=W, height=H,
    margin=dict(l=ML, r=MR, t=MT, b=MB),
    paper_bgcolor="white", plot_bgcolor="white",
    font=dict(family=FONT, color="black"),
    showlegend=False,
    shapes=shapes, annotations=notes,
    xaxis=dict(frame, domain=LEFT, anchor="y", range=XA_RANGE, tick0=0, dtick=50,
               minor=minor_a, showticklabels=False),
    yaxis=dict(frame, **yticks, domain=TOP, anchor="x", range=Y_RANGE,
               minor=minor_y, title=ytitle),
    xaxis2=dict(frame, domain=RIGHT, anchor="y2", range=XZ_RANGE, tick0=0, dtick=20,
                minor=minor_z, showticklabels=False),
    yaxis2=dict(frame, **yticks, domain=TOP, anchor="x2", range=Y_RANGE,
                minor=minor_y, side="right"),
    xaxis3=dict(frame, domain=LEFT, anchor="y3", range=XA_RANGE, tick0=0, dtick=50,
                minor=minor_a, title=dict(text="Mass number (<i>A</i>)", font=titlefont, standoff=4)),
    yaxis3=dict(frame, **yticks, domain=BOTTOM, anchor="x3", range=Y_RANGE,
                minor=minor_y, title=ytitle),
    xaxis4=dict(frame, domain=RIGHT, anchor="y4", range=XZ_RANGE, tick0=0, dtick=20,
                minor=minor_z, title=dict(text="Atomic number (<i>Z</i>)", font=titlefont, standoff=4)),
    yaxis4=dict(frame, **yticks, domain=BOTTOM, anchor="x4", range=Y_RANGE,
                minor=minor_y, side="right"),
)

fig.write_html("out.html")
